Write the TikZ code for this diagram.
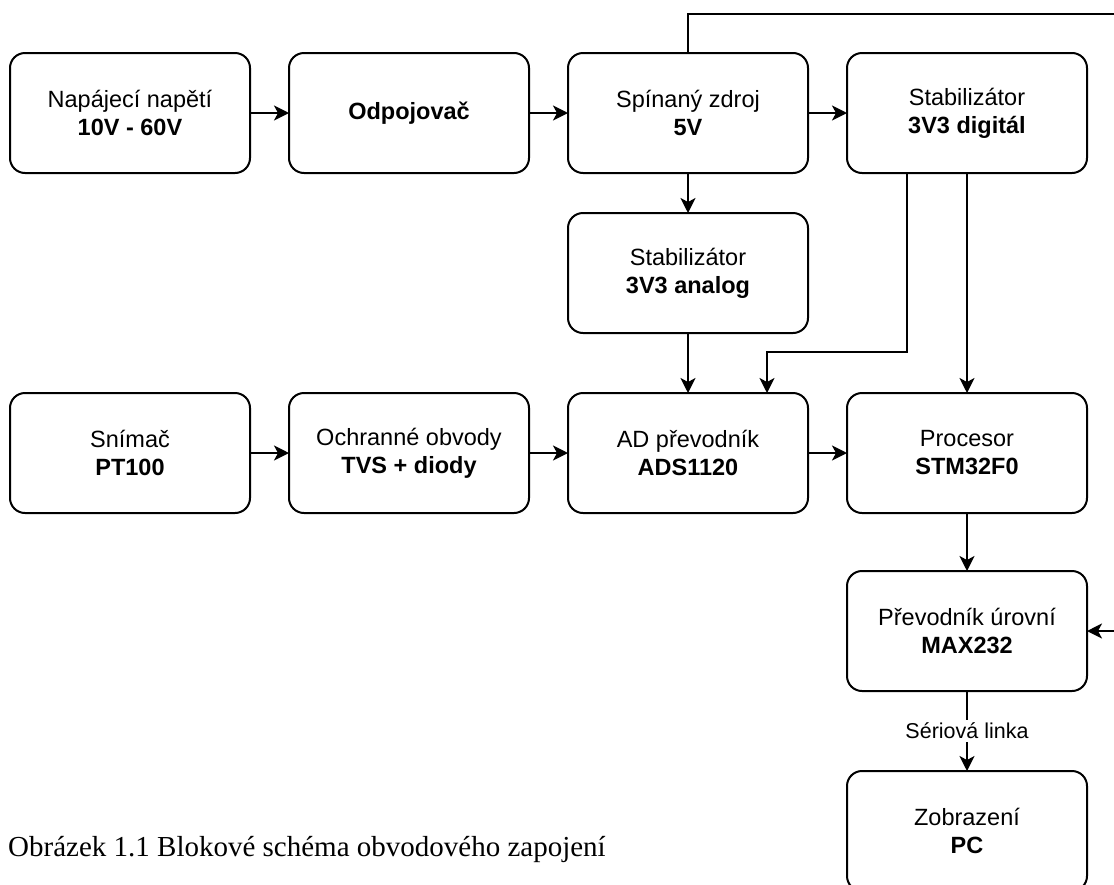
\documentclass[tikz,border=0pt]{standalone}
\usepackage{fontspec}
\setmainfont{Liberation Sans}
\newfontfamily\titulekfont{Liberation Serif}
\usepackage{tikz}
\usetikzlibrary{positioning,arrows.meta}

\begin{document}
\begin{tikzpicture}[x=1pt, y=-1pt, node distance=39pt,
  blok/.style={draw, line width=2pt, rounded corners=15pt, minimum width=240pt, minimum height=120pt, align=center, outer sep=0pt,
    font=\fontsize{23.5}{28}\selectfont},
  sipka/.style={-{Stealth[length=15pt, width=15pt, inset=4pt]}, line width=2pt},
  popis/.style={fill=white, inner sep=3pt, font=\fontsize{21.5}{25}\selectfont}]
\useasboundingbox (0,0) rectangle (1114,884);
\clip (0,0) rectangle (1114,884);
\node[blok] (zdroj) at (130,113) {Napájecí napětí\\\textbf{10V - 60V}};
\node[blok, right=of zdroj] (odp) {\textbf{Odpojovač}};
\node[blok, right=of odp] (spin) {Spínaný zdroj\\\textbf{5V}};
\node[blok, right=of spin] (dig) {Stabilizátor\\\textbf{3V3 digitál}};
\node[blok, below=40pt of spin] (ana) {Stabilizátor\\\textbf{3V3 analog}};
\node[blok, below=60pt of ana] (adc) {AD převodník\\\textbf{ADS1120}};
\node[blok, left=of adc] (ochr) {Ochranné obvody\\\textbf{TVS + diody}};
\node[blok, left=of ochr] (snim) {Snímač\\\textbf{PT100}};
\node[blok, right=of adc] (cpu) {Procesor\\\textbf{STM32F0}};
\node[blok, below=58pt of cpu] (max) {Převodník úrovní\\\textbf{MAX232}};
\node[blok, below=80pt of max] (pc) {Zobrazení\\\textbf{PC}};
\node[anchor=base west, font=\titulekfont\fontsize{29}{34}\selectfont, inner sep=0pt] (titulek) at (8,856) {Obrázek 1.1 Blokové schéma obvodového zapojení};
\coordinate (odbocka) at (767,352);
\coordinate (roh) at (1130,14);
\draw[sipka] (zdroj) -- (odp); \draw[sipka] (odp) -- (spin); \draw[sipka] (spin) -- (dig);
\draw[sipka] (spin) -- (ana); \draw[sipka] (ana) -- (adc);
\draw[sipka] ([xshift=-60pt]dig.south) |- (odbocka) -- (odbocka |- adc.north);
\draw[sipka] (dig) -- (cpu);
\draw[sipka] (snim) -- (ochr); \draw[sipka] (ochr) -- (adc); \draw[sipka] (adc) -- (cpu);
\draw[sipka] (cpu) -- (max);
\draw[sipka] (max) -- node[popis] {Sériová linka} (pc);
\draw[sipka] (spin.north) |- (roh) |- (max.east);
\end{tikzpicture}
\end{document}
